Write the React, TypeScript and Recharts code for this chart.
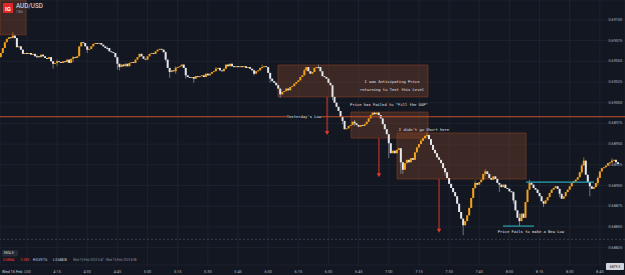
import React from 'react'
import { ComposedChart, Bar, XAxis, YAxis, CartesianGrid, ReferenceLine, ReferenceArea, ReferenceDot } from 'recharts'

// 1-minute candles, AUD/USD, starting 3:47. Prices in 1e-5 units (pipettes).
const startMinute = 227
const firstOpen = 69055
const closePips = [
  69060, 69066, 69073, 69077, 69079, 69078, 69081, 69078, 69067, 69068, 69064, 69059, 69060, 69059, 69060, 69058, 69059, 69056, 69056, 69055,
  69058, 69056, 69054, 69053, 69055, 69050, 69047, 69048, 69050, 69049, 69048, 69050, 69049, 69052, 69048, 69053, 69055, 69054, 69056, 69068,
  69073, 69072, 69068, 69064, 69065, 69068, 69071, 69072, 69071, 69072, 69070, 69068, 69066, 69066, 69062, 69061, 69060, 69055, 69047, 69043,
  69046, 69044, 69047, 69044, 69048, 69049, 69048, 69052, 69055, 69059, 69056, 69053, 69052, 69056, 69059, 69060, 69059, 69062, 69064, 69065,
  69064, 69061, 69052, 69042, 69037, 69039, 69038, 69042, 69043, 69044, 69046, 69042, 69033, 69031, 69030, 69031, 69029, 69032, 69031, 69032,
  69033, 69031, 69035, 69033, 69035, 69037, 69038, 69041, 69042, 69039, 69038, 69041, 69046, 69044, 69047, 69044, 69043, 69044, 69043, 69044,
  69043, 69044, 69042, 69043, 69041, 69039, 69035, 69038, 69039, 69042, 69043, 69044, 69043, 69036, 69029, 69026, 69024, 69021, 69017, 69010,
  69013, 69014, 69017, 69015, 69019, 69020, 69023, 69025, 69027, 69031, 69033, 69039, 69043, 69038, 69035, 69037, 69042, 69043, 69043, 69038,
  69032, 69031, 69029, 69024, 69021, 69007, 69000, 68995, 68990, 68983, 68978, 68968, 68969, 68972, 68973, 68977, 68975, 68973, 68971, 68973,
  68972, 68974, 68977, 68981, 68985, 68988, 68986, 68988, 68985, 68981, 68974, 68968, 68962, 68951, 68939, 68942, 68939, 68943, 68945, 68928,
  68919, 68927, 68931, 68928, 68933, 68931, 68940, 68946, 68950, 68954, 68957, 68960, 68961, 68956, 68949, 68943, 68939, 68934, 68931, 68927,
  68921, 68916, 68909, 68902, 68897, 68892, 68887, 68878, 68868, 68860, 68852, 68857, 68864, 68873, 68885, 68897, 68903, 68901, 68904, 68907,
  68914, 68917, 68914, 68909, 68907, 68911, 68908, 68903, 68901, 68898, 68901, 68897, 68896, 68893, 68892, 68882, 68870, 68861, 68857, 68866,
  68861, 68880, 68895, 68903, 68901, 68897, 68895, 68891, 68887, 68881, 68878, 68882, 68886, 68891, 68895, 68897, 68899, 68896, 68890, 68884,
  68887, 68892, 68895, 68899, 68903, 68905, 68907, 68910, 68916, 68924, 68930, 68913, 68904, 68899, 68896, 68898, 68903, 68909, 68917, 68921,
  68922, 68924, 68927, 68928, 68930, 68931, 68928, 68926,
]

// [candle index, high, low] for candles with visible wicks
const wicks: [number, number, number][] = [
  [6, 69085, 69078], [18, 69058, 69054], [26, 69049, 69041], [28, 69052, 69044], [36, 69056, 69049],
  [43, 69066, 69060], [53, 69068, 69064], [58, 69055, 69040], [59, 69047, 69039], [82, 69062, 69050],
  [84, 69040, 69030], [87, 69044, 69035], [92, 69042, 69029], [96, 69031, 69024], [107, 69043, 69039],
  [126, 69040, 69033], [130, 69046, 69041], [134, 69036, 69024], [139, 69017, 69006], [151, 69041, 69033],
  [158, 69046, 69041], [165, 69021, 69003], [170, 68983, 68974], [176, 68979, 68972], [193, 68962, 68933],
  [199, 68945, 68914], [200, 68928, 68914], [209, 68956, 68950], [212, 68964, 68958], [221, 68921, 68912],
  [230, 68860, 68840], [236, 68906, 68896], [241, 68920, 68912], [248, 68903, 68892], [255, 68893, 68878],
  [258, 68866, 68851], [263, 68907, 68895], [270, 68881, 68874], [278, 68896, 68886], [289, 68926, 68914],
  [290, 68934, 68924], [293, 68904, 68887], [297, 68911, 68900], [304, 68933, 68927],
]

const timeTicks = [240, 255, 270, 285, 300, 315, 330, 345, 360, 375, 390, 405, 420, 435, 450, 465, 480, 495, 510, 525]
const priceTicks = [69100, 69075, 69050, 69025, 69000, 68975, 68950, 68925, 68900, 68875, 68850, 68825]
const yesterdaysLow = 68983

const BG = '#131722'
const UP = '#f4a21c'
const DOWN = '#e6e7ea'
const ARROW = '#e2362b'
const TEAL = '#2aa5b3'

const candles = closePips.map((close, i) => {
  const open = i === 0 ? firstOpen : closePips[i - 1]
  let high = Math.max(open, close)
  let low = Math.min(open, close)
  const w = wicks.find(k => k[0] === i)
  if (w) {
    high = Math.max(high, w[1])
    low = Math.min(low, w[2])
  }
  if (high === low) { high += 0.5; low -= 0.5 }
  return { m: startMinute + i, open, close, high, low, range: [low, high] }
})

const Candle = (props: any) => {
  const { x, y, width, height, payload } = props
  if (!payload || height == null) return null
  const { open, close, high, low } = payload
  const up = close > open
  const toPx = (p: number) => y + ((high - p) / (high - low)) * height
  const top = toPx(Math.max(open, close))
  const bot = toPx(Math.min(open, close))
  const color = up ? UP : DOWN
  const cx = x + width / 2
  return (
    <g>
      <line x1={cx} x2={cx} y1={y} y2={y + height} stroke={up ? '#c98a1e' : '#9a9ca3'} strokeWidth={0.7} />
      <rect x={x} y={top} width={width} height={Math.max(bot - top, 0.9)} fill={color} />
    </g>
  )
}

const fmtTime = (m: number) => `${Math.floor(m / 60)}:${String(m % 60).padStart(2, '0')}`

const XTick = (p: any) => (
  <text x={p.x} y={p.y + 6} textAnchor="middle" dominantBaseline="central" fontSize={3.9} fill="#b2b5be" fontFamily="Roboto, sans-serif">
    {fmtTime(p.payload.value)}
  </text>
)

const YTick = (p: any) => (
  <text x={p.x - 3} y={p.y} textAnchor="end" dominantBaseline="central" fontSize={3.7} fill="#b2b5be" fontFamily="Roboto, sans-serif">
    {(p.payload.value / 1e5).toFixed(5)}
  </text>
)

const note = (text: string, bg = false) => (p: any) => (
  <g>
    {bg && <rect x={p.cx - 17} y={p.cy - 2.5} width={34} height={5} fill={BG} />}
    <text x={p.cx} y={p.cy} textAnchor="middle" dominantBaseline="central" fontSize={3.8} fill="#e4e4e4" fontFamily="DejaVu Sans Mono, monospace">
      {text}
    </text>
  </g>
)

const arrowHead = (p: any) => (
  <polygon points={`${p.cx - 2.2},${p.cy - 4} ${p.cx + 2.2},${p.cy - 4} ${p.cx},${p.cy}`} fill={ARROW} />
)

const boxFill = '#9a4e2a'
const boxStroke = '#7a3a22'

export default function App() {
  return (
    <div style={{ position: 'absolute', left: 0, top: 0, width: 625, height: 275, background: BG, overflow: 'hidden' }}>
      <ComposedChart width={625} height={275} data={candles} margin={{ top: 0, right: 0, bottom: 0, left: 0 }}>
        <CartesianGrid stroke="#1f2431" strokeWidth={0.8} />
        <XAxis
          dataKey="m"
          type="number"
          domain={[226.6, 537.5]}
          allowDataOverflow
          ticks={timeTicks}
          interval={0}
          height={10}
          tickSize={0}
          tickMargin={0}
          axisLine={false}
          tick={<XTick />}
        />
        <YAxis
          type="number"
          orientation="right"
          mirror
          domain={[68804, 69124]}
          allowDataOverflow
          ticks={priceTicks}
          interval={0}
          tickSize={0}
          tickMargin={0}
          axisLine={false}
          tick={<YTick />}
        />

        <ReferenceArea x1={226.6} x2={239.5} y1={69082} y2={69124} fill={boxFill} fillOpacity={0.3} stroke={boxStroke} strokeOpacity={0.7} />
        <ReferenceArea x1={364.9} x2={439.5} y1={69007} y2={69045.5} fill={boxFill} fillOpacity={0.3} stroke={boxStroke} strokeOpacity={0.7} />
        <ReferenceArea x1={401.2} x2={439.5} y1={68957.3} y2={68988.7} fill={boxFill} fillOpacity={0.3} stroke={boxStroke} strokeOpacity={0.7} />
        <ReferenceArea x1={424.1} x2={488.3} y1={68907.8} y2={68963.4} fill={boxFill} fillOpacity={0.3} stroke={boxStroke} strokeOpacity={0.7} />

        <ReferenceLine y={68835} stroke="#4a5060" strokeDasharray="2 2" strokeWidth={0.7} />
        <ReferenceLine y={yesterdaysLow} stroke="#c4502c" strokeWidth={1.2} />

        <Bar dataKey="range" barSize={2} shape={(p: any) => <Candle {...p} />} isAnimationActive={false} />

        <ReferenceLine segment={[{ x: 488.3, y: 68904 }, { x: 522.1, y: 68904 }]} stroke={TEAL} strokeWidth={1.2} />
        <ReferenceLine segment={[{ x: 476.8, y: 68851 }, { x: 492.2, y: 68851 }]} stroke={TEAL} strokeWidth={1.2} />

        <ReferenceLine segment={[{ x: 389.3, y: 69007 }, { x: 389.3, y: 68963 }]} stroke={ARROW} strokeWidth={1} />
        <ReferenceDot x={389.3} y={68961} r={2} shape={arrowHead} />
        <ReferenceLine segment={[{ x: 415.1, y: 68957 }, { x: 415.1, y: 68912 }]} stroke={ARROW} strokeWidth={1} />
        <ReferenceDot x={415.1} y={68910} r={2} shape={arrowHead} />
        <ReferenceLine segment={[{ x: 445.0, y: 68908 }, { x: 445.0, y: 68845 }]} stroke={ARROW} strokeWidth={1} />
        <ReferenceDot x={445.0} y={68843} r={2} shape={arrowHead} />

        <ReferenceDot x={377.8} y={yesterdaysLow} r={2} shape={note("Yesterday's Low", true)} />
        <ReferenceDot x={421.6} y={69026} r={2} shape={note('I was Anticipating Price')} />
        <ReferenceDot x={421.6} y={69016.5} r={2} shape={note('returning to Test this Level')} />
        <ReferenceDot x={420.1} y={68998.4} r={2} shape={note('Price has Failed to "Fill the GAP"')} />
        <ReferenceDot x={437.5} y={68968.2} r={2} shape={note("I didn't go Short here")} />
        <ReferenceDot x={490.7} y={68845} r={2} shape={note('Price Fails to make a New Low')} />
      </ComposedChart>

      <svg width={625} height={275} style={{ position: 'absolute', left: 0, top: 0, pointerEvents: 'none' }} fontFamily="Roboto, sans-serif">
        <rect x={3} y={3} width={10} height={10} rx={1} fill="#e1262c" />
        <text x={8} y={8.3} textAnchor="middle" dominantBaseline="central" fontSize={6} fontWeight="bold" fill="#fff">IG</text>
        <text x={16} y={5.5} dominantBaseline="central" fontSize={6.3} fill="#e8e9ec">AUD/USD</text>
        <text x={16} y={12} dominantBaseline="central" fontSize={2.8} fill="#9da1ab">1 Min</text>

        <rect x={2} y={250} width={16} height={6.5} rx={1} fill="#262b37" />
        <text x={4} y={253.3} dominantBaseline="central" fontSize={3.3} fill="#c7cad2">EMA 8</text>
        <text x={3} y={260.3} dominantBaseline="central" fontSize={3.1} fill="#e0413a">0.68884</text>
        <text x={20} y={260.3} dominantBaseline="central" fontSize={3.1} fill="#e0413a">-0.58%</text>
        <text x={33} y={260.3} dominantBaseline="central" fontSize={3.1} fill="#d8dae0">H:0.69116</text>
        <text x={53} y={260.3} dominantBaseline="central" fontSize={3.1} fill="#d8dae0">L:0.68828</text>
        <text x={73} y={260.3} dominantBaseline="central" fontSize={3.1} fill="#8f939d">Wed 15 Feb 2023 3:47 - Wed 15 Feb 2023 8:58</text>

        <rect x={0} y={266} width={24.5} height={9} fill={BG} />
        <text x={2} y={271} dominantBaseline="central" fontSize={3.9} fill="#d6d8de">Wed 15 Feb</text>

        <rect x={606} y={263} width={18} height={7} rx={0.8} fill="#d1d4dc" />
        <text x={615} y={266.6} textAnchor="middle" dominantBaseline="central" fontSize={3.4} fill={BG}>6879.3</text>
      </svg>
    </div>
  )
}
